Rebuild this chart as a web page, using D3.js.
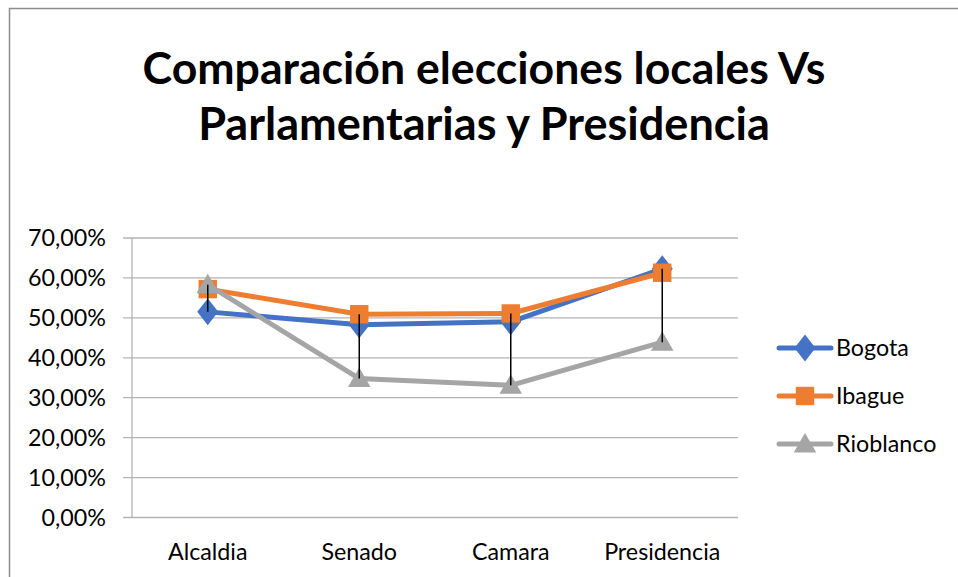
<!DOCTYPE html>
<html>
<head>
<meta charset="utf-8">
<script src="https://cdn.jsdelivr.net/npm/d3@7"></script>
<style>
  body { margin: 0; background: #fff; }
  text { font-family: Lato, "Open Sans", sans-serif; fill: #000; }
</style>
</head>
<body>
<div id="chart"></div>
<script>
// data
let categories = ["Alcaldia", "Senado", "Camara", "Presidencia"]
let seriesNames = ["Bogota", "Ibague", "Rioblanco"]
let bogota = [0.515, 0.483, 0.490, 0.623]
let ibague = [0.572, 0.509, 0.511, 0.613]
let rioblanco = [0.583, 0.348, 0.331, 0.439]
let yTicks = [0, 0.1, 0.2, 0.3, 0.4, 0.5, 0.6, 0.7]
let titleLines = ["Comparación elecciones locales Vs", "Parlamentarias y Presidencia"]

let colors = ["#4472C4", "#ED7D31", "#A5A5A5"]
let markers = [d3.symbolDiamond, d3.symbolSquare, d3.symbolTriangle]
let allSeries = [bogota, ibague, rioblanco]

const W = 958, H = 577

let svg = d3.select("#chart")
    .append("svg")
    .attr("width", W)
    .attr("height", H)

// chart frame (runs off the right and bottom edges)
svg.append("rect")
    .attr("x", 9.5).attr("y", 8.5)
    .attr("width", 1200).attr("height", 1200)
    .style("fill", "none")
    .style("stroke", "#8c8c8c")
    .style("stroke-width", 1.5)

// title, fitted to the widths seen in the picture
let titleWidths = [683, 572]
let titleBase = [84, 140]
titleLines.forEach((line, i) => {
    let t = svg.append("text")
        .attr("x", 484)
        .attr("y", titleBase[i])
        .attr("text-anchor", "middle")
        .style("font-weight", "bold")
        .style("font-size", "44px")
        .text(line)
    let w = t.node().getComputedTextLength()
    t.style("font-size", (44 * titleWidths[i] / w) + "px")
})

// label font size: fit "70,00%" to about 78px wide
let probe = svg.append("text").style("font-size", "20px").text("70,00%")
let fs = 20 * 78 / probe.node().getComputedTextLength()
probe.remove()

let x = d3.scaleBand()
    .domain(categories)
    .range([132, 738])

let y = d3.scaleLinear()
    .domain([0, 0.7])
    .range([517.5, 238])

let pct = d => d3.format(".2f")(d * 100).replace(".", ",") + "%"

// gridlines
svg.append("g")
    .selectAll("line")
    .data(yTicks)
    .enter()
    .append("line")
    .attr("x1", 123)
    .attr("x2", 738)
    .attr("y1", d => y(d))
    .attr("y2", d => y(d))
    .style("stroke", "#b3b3b3")
    .style("stroke-width", 1.3)

// y axis line
svg.append("line")
    .attr("x1", 132).attr("x2", 132)
    .attr("y1", 238).attr("y2", 517.5)
    .style("stroke", "#b3b3b3")
    .style("stroke-width", 1.3)

// y tick labels
svg.append("g")
    .selectAll("text")
    .data(yTicks)
    .enter()
    .append("text")
    .attr("x", 106)
    .attr("y", d => y(d) + fs * 0.36)
    .attr("text-anchor", "end")
    .style("font-size", fs + "px")
    .text(pct)

// category labels
svg.append("g")
    .selectAll("text")
    .data(categories)
    .enter()
    .append("text")
    .attr("x", d => x(d) + x.bandwidth() / 2)
    .attr("y", 560)
    .attr("text-anchor", "middle")
    .style("font-size", fs + "px")
    .text(d => d)

let cx = c => x(c) + x.bandwidth() / 2

let line = d3.line()
    .x((d, i) => cx(categories[i]))
    .y(d => y(d))

let symbolSizes = [210, 340, 220]

allSeries.forEach((vals, s) => {
    let g = svg.append("g")
    g.append("path")
        .datum(vals)
        .attr("d", line)
        .style("fill", "none")
        .style("stroke", colors[s])
        .style("stroke-width", 5)
        .style("stroke-linejoin", "round")
        .style("stroke-linecap", "round")
    g.selectAll("path.mk")
        .data(vals)
        .enter()
        .append("path")
        .attr("class", "mk")
        .attr("d", d3.symbol().type(markers[s]).size(symbolSizes[s]))
        .attr("transform", (d, i) => {
            let sy = s == 0 ? " scale(1.35,1)" : ""
            return "translate(" + cx(categories[i]) + "," + (y(d) + (s == 2 ? 2 : 0)) + ")" + sy
        })
        .style("fill", colors[s])
})

// high-low lines
svg.append("g")
    .selectAll("line")
    .data(categories)
    .enter()
    .append("line")
    .attr("x1", d => cx(d))
    .attr("x2", d => cx(d))
    .attr("y1", (d, i) => y(d3.max(allSeries, v => v[i])))
    .attr("y2", (d, i) => y(d3.min(allSeries, v => v[i])))
    .style("stroke", "#000")
    .style("stroke-width", 1.5)

// legend
let legend = svg.append("g")
    .selectAll("g")
    .data(seriesNames)
    .enter()
    .append("g")
    .attr("transform", (d, i) => "translate(0," + (348 + i * 48) + ")")

legend.append("line")
    .attr("x1", 779).attr("x2", 831)
    .attr("y1", 0).attr("y2", 0)
    .style("stroke", (d, i) => colors[i])
    .style("stroke-width", 5)
    .style("stroke-linecap", "round")

legend.append("path")
    .attr("d", (d, i) => d3.symbol().type(markers[i]).size(symbolSizes[i])())
    .attr("transform", (d, i) => "translate(805," + (i == 2 ? 2 : 0) + ")" + (i == 0 ? " scale(1.35,1)" : ""))
    .style("fill", (d, i) => colors[i])

legend.append("text")
    .attr("x", 836)
    .attr("y", fs * 0.36)
    .style("font-size", fs + "px")
    .text(d => d)
</script>
</body>
</html>
